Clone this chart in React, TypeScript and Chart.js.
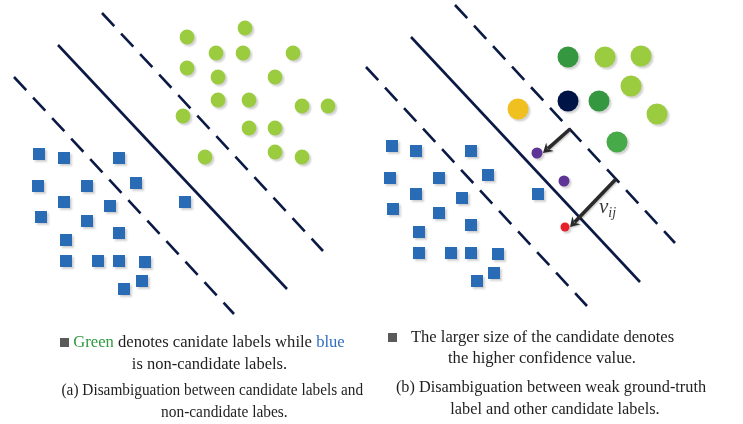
import React, { useEffect, useRef } from "react";
import { Chart, registerables } from "chart.js";

Chart.register(...registerables);

// ---- data (positions in diagram units) ----
const leftCandidates: [number, number][] = [
  [187, 37], [245, 28], [216, 53], [243, 53], [293, 53], [187, 68],
  [218, 77], [275, 77], [218, 100], [249, 100], [302, 106], [328, 106],
  [183, 116], [249, 128], [275, 128], [205, 157], [275, 152], [302, 157],
];
const leftNonCandidates: [number, number][] = [
  [39, 154], [64, 158], [119, 158], [38, 186], [87, 186], [136, 183],
  [64, 202], [110, 206], [185, 202], [41, 217], [87, 221], [119, 233],
  [66, 240], [66, 261], [98, 261], [119, 261], [145, 262], [142, 281], [124, 289],
];
const rightNonCandidates: [number, number][] = [
  [392, 146], [416, 151], [471, 151], [390, 178], [439, 178], [488, 175],
  [416, 194], [462, 198], [538, 194], [393, 209], [439, 213], [471, 225],
  [419, 232], [419, 253], [451, 253], [471, 253], [498, 254], [494, 273], [477, 281],
];
const rightCandidates: [number, number][] = [
  [568, 57], [605, 57], [641, 56], [631, 86], [568, 101], [599, 101],
  [518, 109], [657, 114], [617, 142], [537, 153], [564, 181], [565, 227],
];
const rightCandidateColors = [
  "#35973F", "#9BCB3E", "#9BCB3E", "#9BCB3E", "#001446", "#35973F",
  "#F0C020", "#9BCB3E", "#47AA48", "#5E3596", "#5E3596", "#E8202A",
];
const rightCandidateRadii = [10.5, 10.5, 10.5, 10.5, 10.5, 10.5, 10.5, 10.5, 10.5, 5.5, 5.5, 4.5];

const leftUpperMargin: [number, number][] = [[102, 13], [323, 251]];
const leftBoundary: [number, number][] = [[58, 45], [287, 289]];
const leftLowerMargin: [number, number][] = [[14, 77], [234, 314]];
const rightUpperMargin: [number, number][] = [[455, 5], [675, 243]];
const rightBoundary: [number, number][] = [[411, 37], [640, 282]];
const rightLowerMargin: [number, number][] = [[366, 67], [587, 306]];

const arrows: [number, number, number, number][] = [
  [570, 129, 543, 153],
  [616, 179, 570, 227],
];

const toPts = (a: [number, number][]) => a.map(([x, y]) => ({ x, y }));

const shadowPlugin = {
  id: "shadowPlugin",
  beforeDatasetDraw(chart: any, args: any) {
    const ds = chart.data.datasets[args.index] as any;
    if (ds.shadow) {
      const ctx = chart.ctx;
      ctx.save();
      ctx.shadowColor = "rgba(0,0,0,0.18)";
      ctx.shadowOffsetX = 2;
      ctx.shadowOffsetY = 2;
      ctx.shadowBlur = 2;
    }
  },
  afterDatasetDraw(chart: any, args: any) {
    const ds = chart.data.datasets[args.index] as any;
    if (ds.shadow) chart.ctx.restore();
  },
};

const arrowPlugin = {
  id: "arrowPlugin",
  afterDatasetsDraw(chart: any) {
    const ctx = chart.ctx;
    const xs = chart.scales.x;
    const ys = chart.scales.y;
    arrows.forEach(([x1, y1, x2, y2]) => {
      const sx = xs.getPixelForValue(x1);
      const sy = ys.getPixelForValue(y1);
      const ex = xs.getPixelForValue(x2);
      const ey = ys.getPixelForValue(y2);
      const ang = Math.atan2(ey - sy, ex - sx);
      const head = 11;
      ctx.save();
      ctx.shadowColor = "rgba(0,0,0,0.25)";
      ctx.shadowOffsetX = 1;
      ctx.shadowOffsetY = 1;
      ctx.shadowBlur = 2;
      ctx.strokeStyle = "#2a2a2a";
      ctx.fillStyle = "#2a2a2a";
      ctx.lineWidth = 3.6;
      ctx.beginPath();
      ctx.moveTo(sx, sy);
      ctx.lineTo(ex - Math.cos(ang) * head * 0.6, ey - Math.sin(ang) * head * 0.6);
      ctx.stroke();
      ctx.beginPath();
      ctx.moveTo(ex, ey);
      ctx.lineTo(ex - head * Math.cos(ang - 0.55), ey - head * Math.sin(ang - 0.55));
      ctx.lineTo(ex - head * 0.55 * Math.cos(ang), ey - head * 0.55 * Math.sin(ang));
      ctx.lineTo(ex - head * Math.cos(ang + 0.55), ey - head * Math.sin(ang + 0.55));
      ctx.closePath();
      ctx.fill();
      ctx.restore();
    });
  },
};

const lineDs = (pts: [number, number][], dashed: boolean) => ({
  type: "line" as const,
  data: toPts(pts),
  showLine: true,
  borderColor: "#0B1A45",
  borderWidth: 2.6,
  borderDash: dashed ? [18, 10] : [],
  pointRadius: 0,
  fill: false,
  clip: false as any,
});

export default function App() {
  const ref = useRef<HTMLCanvasElement>(null);
  useEffect(() => {
    if (!ref.current) return;
    const chart = new Chart(ref.current, {
      type: "scatter",
      data: {
        datasets: [
          {
            data: toPts(rightCandidates),
            backgroundColor: rightCandidateColors,
            borderWidth: 0,
            pointRadius: rightCandidateRadii,
            pointStyle: "circle",
            shadow: true,
            clip: false,
          } as any,
          {
            data: toPts(leftCandidates),
            backgroundColor: "#9BCB3E",
            borderWidth: 0,
            pointRadius: 7.4,
            pointStyle: "circle",
            shadow: true,
            clip: false,
          } as any,
          {
            data: toPts(leftNonCandidates),
            backgroundColor: "#2A6BB5",
            borderWidth: 0,
            pointRadius: 8.5,
            pointStyle: "rect",
            shadow: true,
            clip: false,
          } as any,
          {
            data: toPts(rightNonCandidates),
            backgroundColor: "#2A6BB5",
            borderWidth: 0,
            pointRadius: 8.5,
            pointStyle: "rect",
            shadow: true,
            clip: false,
          } as any,
          lineDs(leftUpperMargin, true),
          lineDs(leftBoundary, false),
          lineDs(leftLowerMargin, true),
          lineDs(rightUpperMargin, true),
          lineDs(rightBoundary, false),
          lineDs(rightLowerMargin, true),
        ],
      },
      options: {
        animation: false,
        responsive: false,
        events: [],
        layout: { padding: 0, autoPadding: false },
        plugins: { legend: { display: false }, tooltip: { enabled: false } },
        scales: {
          x: { type: "linear", min: 0, max: 743, display: false },
          y: { type: "linear", min: 0, max: 424, reverse: true, display: false },
        },
      } as any,
      plugins: [shadowPlugin, arrowPlugin],
    });
    return () => chart.destroy();
  }, []);

  const font = "'Liberation Serif', 'Times New Roman', serif";
  const line = (cx: number, cy: number, size: number, content: React.ReactNode, sx = 1) => (
    <div
      style={{
        position: "absolute",
        left: cx - 300,
        top: cy - 10,
        width: 600,
        height: 20,
        lineHeight: "20px",
        textAlign: "center",
        whiteSpace: "nowrap",
        fontFamily: font,
        fontSize: size,
        color: "#1e1e1e",
      }}
    >
      <span style={{ display: "inline-block", transform: `scaleX(${sx})`, transformOrigin: "50% 50%" }}>
        {content}
      </span>
    </div>
  );
  const sq = (
    <span
      style={{
        display: "inline-block",
        width: 9,
        height: 9,
        background: "#5a5a5a",
        marginRight: 4,
        verticalAlign: "0px",
      }}
    />
  );

  return (
    <div style={{ position: "fixed", left: 0, top: 0, width: 743, height: 424, background: "#fff" }}>
      <canvas ref={ref} width={743} height={424} style={{ position: "absolute", left: 0, top: 0 }} />
      {line(202.5, 342, 16.6, <>{sq}<span style={{ color: "#2E9A3E" }}>Green</span> denotes canidate labels while <span style={{ color: "#2F6FC0" }}>blue</span></>)}
      {line(209.5, 364, 16.5, "is non-candidate labels.")}
      {line(212, 390, 16.4, "(a) Disambiguation between candidate labels and", 0.935)}
      {line(224, 412, 16.4, "non-candidate labes.", 0.94)}
      {line(531, 337, 16.6, <>{sq}<span style={{ marginLeft: 10 }}>The larger size of the candidate denotes</span></>)}
      {line(542, 358, 16.6, "the higher confidence value.")}
      {line(551, 387, 16.3, "(b) Disambiguation between weak ground-truth")}
      {line(555, 409, 16.3, "label and other candidate labels.")}
      <div
        style={{
          position: "absolute",
          left: 599,
          top: 196,
          fontFamily: font,
          fontStyle: "italic",
          fontSize: 21,
          color: "#3a3a3a",
          lineHeight: "20px",
          whiteSpace: "nowrap",
        }}
      >
        ν<span style={{ fontSize: 14, position: "relative", top: 4 }}>ij</span>
      </div>
    </div>
  );
}
